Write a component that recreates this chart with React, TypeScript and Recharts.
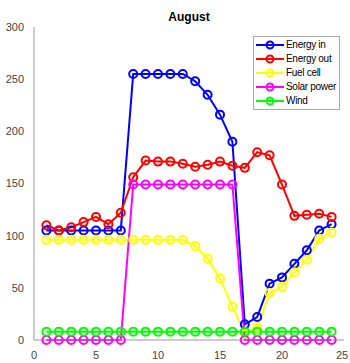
import { LineChart, Line, XAxis, YAxis } from "recharts";

const hours = [1, 2, 3, 4, 5, 6, 7, 8, 9, 10, 11, 12, 13, 14, 15, 16, 17, 18, 19, 20, 21, 22, 23, 24];
const energyIn = [105, 105, 105, 105, 105, 105, 105, 255, 255, 255, 255, 255, 248, 235, 216, 190, 15, 22, 54, 60, 73, 86, 105, 111];
const energyOut = [110, 105, 108, 113, 118, 111, 122, 156, 172, 171, 171, 169, 166, 168, 171, 167, 165, 180, 177, 149, 119, 120, 121, 118];
const fuelCell = [96, 96, 96, 96, 96, 96, 96, 96, 96, 96, 96, 96, 90, 78, 59, 32, 6, 12, 45, 51, 65, 77, 97, 103];
const solarPower = [0, 0, 0, 0, 0, 0, 0, 149, 149, 149, 149, 149, 149, 149, 149, 149, 0, 0, 0, 0, 0, 0, 0, 0];
const wind = [8, 8, 8, 8, 8, 8, 8, 8, 8, 8, 8, 8, 8, 8, 8, 8, 8, 8, 8, 8, 8, 8, 8, 8];
const xTicks = [0, 5, 10, 15, 20, 25];
const yTicks = [0, 50, 100, 150, 200, 250, 300];

const series = [
  { key: "Energy in", values: energyIn, color: "#0000ff" },
  { key: "Energy out", values: energyOut, color: "#ff0000" },
  { key: "Fuel cell", values: fuelCell, color: "#ffff00" },
  { key: "Solar power", values: solarPower, color: "#ff00ff" },
  { key: "Wind", values: wind, color: "#00ff00" },
];

const data = hours.map((h, i) => {
  const row: Record<string, number> = { hour: h };
  series.forEach((s) => {
    row[s.key] = s.values[i];
  });
  return row;
});

const font = "'Liberation Sans', Arial, sans-serif";

function XTick({ x, y, payload }: any) {
  return (
    <text x={x} y={y + 11} textAnchor="middle" fill="#444" fontSize={11} fontFamily={font}>
      {payload.value}
    </text>
  );
}

function LegendBox() {
  return (
    <div
      style={{
        position: "absolute",
        left: 253,
        top: 36,
        border: "1px solid #aaa",
        background: "#fff",
        padding: "1px 3px 1px 1px",
        fontFamily: font,
        fontSize: 10,
        color: "#000",
        lineHeight: "14px",
        letterSpacing: -0.3,
      }}
    >
      {series.map((s) => (
        <div key={s.key} style={{ display: "flex", alignItems: "center" }}>
          <svg width={30} height={14} style={{ marginRight: 1 }}>
            <line x1={1} y1={7} x2={29} y2={7} stroke={s.color} strokeWidth={2} />
            <circle cx={15} cy={7} r={3.5} fill="none" stroke={s.color} strokeWidth={2} />
          </svg>
          <span>{s.key}</span>
        </div>
      ))}
    </div>
  );
}

export default function App() {
  return (
    <div style={{ position: "absolute", left: 0, top: 0, width: 350, height: 363, background: "#fff" }}>
      <div
        style={{
          position: "absolute",
          left: 0,
          width: 378,
          top: 10,
          textAlign: "center",
          fontFamily: font,
          fontWeight: "bold",
          fontSize: 12,
        }}
      >
        August
      </div>
      <LineChart width={350} height={363} data={data} margin={{ top: 27, right: 6, bottom: 0, left: 0 }}>
        <XAxis
          dataKey="hour"
          type="number"
          domain={[0, 25]}
          ticks={xTicks}
          height={23}
          tickLine={false}
          stroke="#999"
          tick={<XTick />}
        />
        <YAxis
          type="number"
          domain={[0, 300]}
          ticks={yTicks}
          width={34}
          tickLine={false}
          stroke="#999"
          tick={{ fill: "#444", fontSize: 11, fontFamily: font }}
          tickMargin={4}
        />
        {series.map((s) => (
          <Line
            key={s.key}
            dataKey={s.key}
            type="linear"
            stroke={s.color}
            strokeWidth={2}
            dot={{ r: 4, fill: "none", stroke: s.color, strokeWidth: 2 }}
            isAnimationActive={false}
          />
        ))}
      </LineChart>
      <LegendBox />
    </div>
  );
}
